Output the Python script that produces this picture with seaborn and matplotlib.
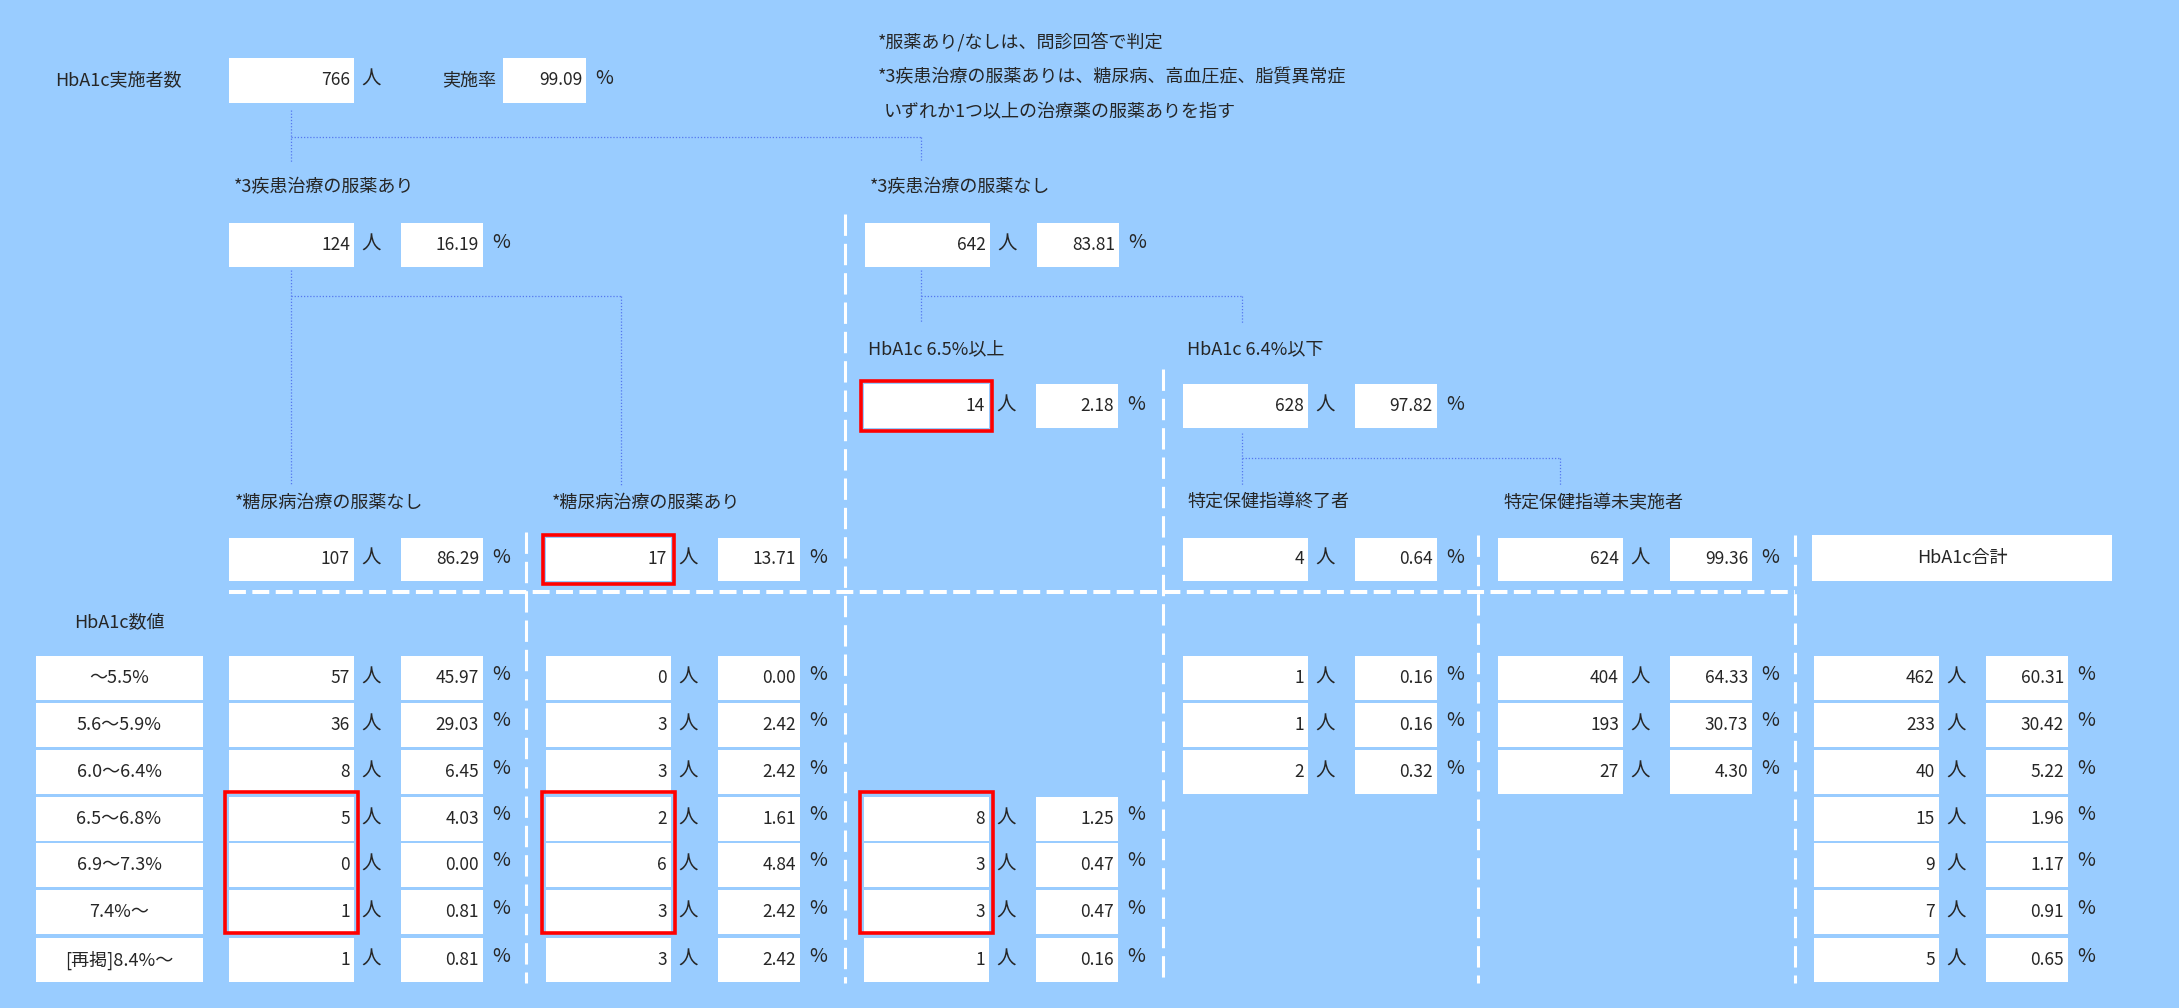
import matplotlib
matplotlib.use("Agg")
import matplotlib.pyplot as plt
import matplotlib.patches as mpatches
import seaborn as sns

# Data
total_count = 766
total_rate = 99.09
med_yes = (124, 16.19)
med_no = (642, 83.81)
no_med_high = (14, 2.18)      # HbA1c 6.5%以上
no_med_low = (628, 97.82)     # HbA1c 6.4%以下
dm_no = (107, 86.29)
dm_yes = (17, 13.71)
guide_done = (4, 0.64)
guide_none = (624, 99.36)

row_labels = ["～5.5%", "5.6～5.9%", "6.0～6.4%", "6.5～6.8%", "6.9～7.3%", "7.4%～", "[再掲]8.4%～"]
dm_no_counts = [57, 36, 8, 5, 0, 1, 1]
dm_no_pcts = [45.97, 29.03, 6.45, 4.03, 0.00, 0.81, 0.81]
dm_yes_counts = [0, 3, 3, 2, 6, 3, 3]
dm_yes_pcts = [0.00, 2.42, 2.42, 1.61, 4.84, 2.42, 2.42]
high_counts = [None, None, None, 8, 3, 3, 1]
high_pcts = [None, None, None, 1.25, 0.47, 0.47, 0.16]
done_counts = [1, 1, 2, None, None, None, None]
done_pcts = [0.16, 0.16, 0.32, None, None, None, None]
none_counts = [404, 193, 27, None, None, None, None]
none_pcts = [64.33, 30.73, 4.30, None, None, None, None]
total_counts = [462, 233, 40, 15, 9, 7, 5]
total_pcts = [60.31, 30.42, 5.22, 1.96, 1.17, 0.91, 0.65]

notes = ["*服薬あり/なしは、問診回答で判定",
         "*3疾患治療の服薬ありは、糖尿病、高血圧症、脂質異常症",
         "いずれか1つ以上の治療薬の服薬ありを指す"]

sns.set_theme(style="white")
plt.rcParams["font.family"] = ["Noto Sans CJK JP", "DejaVu Sans"]

BG = "#99CCFF"
DOT = "#5577EE"
FS_LABEL = 13
FS_NUM = 12.5
FS_PCT = 14

fig = plt.figure(figsize=(21.79, 10.08), dpi=100)
ax = fig.add_axes([0, 0, 1, 1])
ax.set_xlim(0, 2179)
ax.set_ylim(1008, 0)
ax.axis("off")
fig.patch.set_facecolor(BG)
ax.set_facecolor(BG)

CW, PW, POFF = 125, 82, 172


def box(x, y, w, h, red=False):
    ax.add_patch(mpatches.Rectangle((x, y), w, h, facecolor="white", edgecolor="none", zorder=2))
    if red:
        ax.add_patch(mpatches.Rectangle((x - 3, y - 3), w + 6, h + 6, fill=False,
                                        edgecolor="#FF0000", lw=2.6, zorder=4))


def pair(x, y, h, count, pct, red=False, pct_up=2):
    box(x, y, CW, h, red)
    ax.text(x + CW - 4, y + h / 2, f"{count}", ha="right", va="center", fontsize=FS_NUM, zorder=5)
    ax.text(x + CW + 7, y + h / 2 - 1, "人", ha="left", va="center", fontsize=FS_PCT, zorder=5)
    box(x + POFF, y, PW, h)
    ax.text(x + POFF + PW - 4, y + h / 2, f"{pct:.2f}", ha="right", va="center", fontsize=FS_NUM, zorder=5)
    ax.text(x + POFF + PW + 9, y + h / 2 - pct_up, "%", ha="left", va="center", fontsize=FS_PCT, zorder=5)


def dotted(xs, ys):
    ax.plot(xs, ys, color=DOT, lw=0.9, ls=(0, (1, 1.5)), zorder=1)


# top row
ax.text(55, 80, "HbA1c実施者数", ha="left", va="center", fontsize=FS_LABEL)
box(229, 58, CW, 45)
ax.text(229 + CW - 4, 80, f"{total_count}", ha="right", va="center", fontsize=FS_NUM)
ax.text(229 + CW + 7, 79, "人", ha="left", va="center", fontsize=FS_PCT)
ax.text(442, 80, "実施率", ha="left", va="center", fontsize=FS_LABEL)
box(503, 58, 83, 45)
ax.text(586 - 4, 80, f"{total_rate:.2f}", ha="right", va="center", fontsize=FS_NUM)
ax.text(595, 78, "%", ha="left", va="center", fontsize=FS_PCT)

for (nx, ny), t in zip([(878, 43), (878, 77), (884, 112)], notes):
    ax.text(nx, ny, t, ha="left", va="center", fontsize=FS_LABEL)

# connectors
dotted([291, 291], [110, 162])
dotted([291, 921], [137, 137])
dotted([921, 921], [137, 162])
dotted([291, 291], [270, 485])
dotted([291, 621], [296, 296])
dotted([621, 621], [296, 485])
dotted([921, 921], [270, 323])
dotted([921, 1242], [296, 296])
dotted([1242, 1242], [296, 323])
dotted([1242, 1242], [433, 485])
dotted([1242, 1560], [458, 458])
dotted([1560, 1560], [458, 485])

# level 2
ax.text(234, 187, "*3疾患治療の服薬あり", ha="left", va="center", fontsize=FS_LABEL)
ax.text(870, 187, "*3疾患治療の服薬なし", ha="left", va="center", fontsize=FS_LABEL)
pair(229, 223, 44, *med_yes)
pair(865, 223, 44, *med_no)

# level 3
ax.text(868, 349, "HbA1c 6.5%以上", ha="left", va="center", fontsize=FS_LABEL)
ax.text(1187, 349, "HbA1c 6.4%以下", ha="left", va="center", fontsize=FS_LABEL)
pair(864, 384, 44, *no_med_high, red=True)
pair(1183, 384, 44, *no_med_low)

# level 4
ax.text(235, 503, "*糖尿病治療の服薬なし", ha="left", va="center", fontsize=FS_LABEL)
ax.text(552, 503, "*糖尿病治療の服薬あり", ha="left", va="center", fontsize=FS_LABEL)
ax.text(1187, 503, "特定保健指導終了者", ha="left", va="center", fontsize=FS_LABEL)
ax.text(1503, 503, "特定保健指導未実施者", ha="left", va="center", fontsize=FS_LABEL)
pair(229, 538, 43, *dm_no)
pair(546, 538, 43, *dm_yes, red=True)
pair(1183, 538, 43, *guide_done)
pair(1498, 538, 43, *guide_none)
box(1812, 535, 300, 46)
ax.text(1962, 558, "HbA1c合計", ha="center", va="center", fontsize=FS_LABEL)

# white dashed separators
ax.plot([229, 1795], [592, 592], color="white", lw=2.9, ls=(0, (4.2, 1.6)), zorder=3)
for vx, vy in [(526, 532), (845, 214), (1163, 369), (1478, 535), (1795, 535)]:
    ax.plot([vx, vx], [vy, 983], color="white", lw=2.2, ls=(0, (7, 2.6)), zorder=3)

ax.text(74, 622, "HbA1c数値", ha="left", va="center", fontsize=FS_LABEL)

# table rows
row_y = [656, 703, 750, 797, 843, 890, 938]
RH = 44
columns = [
    (229, dm_no_counts, dm_no_pcts, True),
    (546, dm_yes_counts, dm_yes_pcts, True),
    (864, high_counts, high_pcts, True),
    (1183, done_counts, done_pcts, False),
    (1498, none_counts, none_pcts, False),
    (1814, total_counts, total_pcts, False),
]
for i, (lab, ry) in enumerate(zip(row_labels, row_y)):
    box(36, ry, 167, RH)
    ax.text(119, ry + RH / 2, lab, ha="center", va="center", fontsize=FS_LABEL, zorder=5)
    for cx, cnts, pcts, flag in columns:
        if cnts[i] is None:
            continue
        pair(cx, ry, RH, cnts[i], pcts[i], pct_up=4)

# red frames around HbA1c 6.5%+ rows
for cx, cnts, pcts, flag in columns:
    if flag:
        top, bot = row_y[3], row_y[5] + RH
        ax.add_patch(mpatches.Rectangle((cx - 4, top - 5), CW + 8, bot - top + 4, fill=False,
                                        edgecolor="#FF0000", lw=2.6, zorder=4))

fig.savefig("out.png", dpi=100, facecolor=BG)
